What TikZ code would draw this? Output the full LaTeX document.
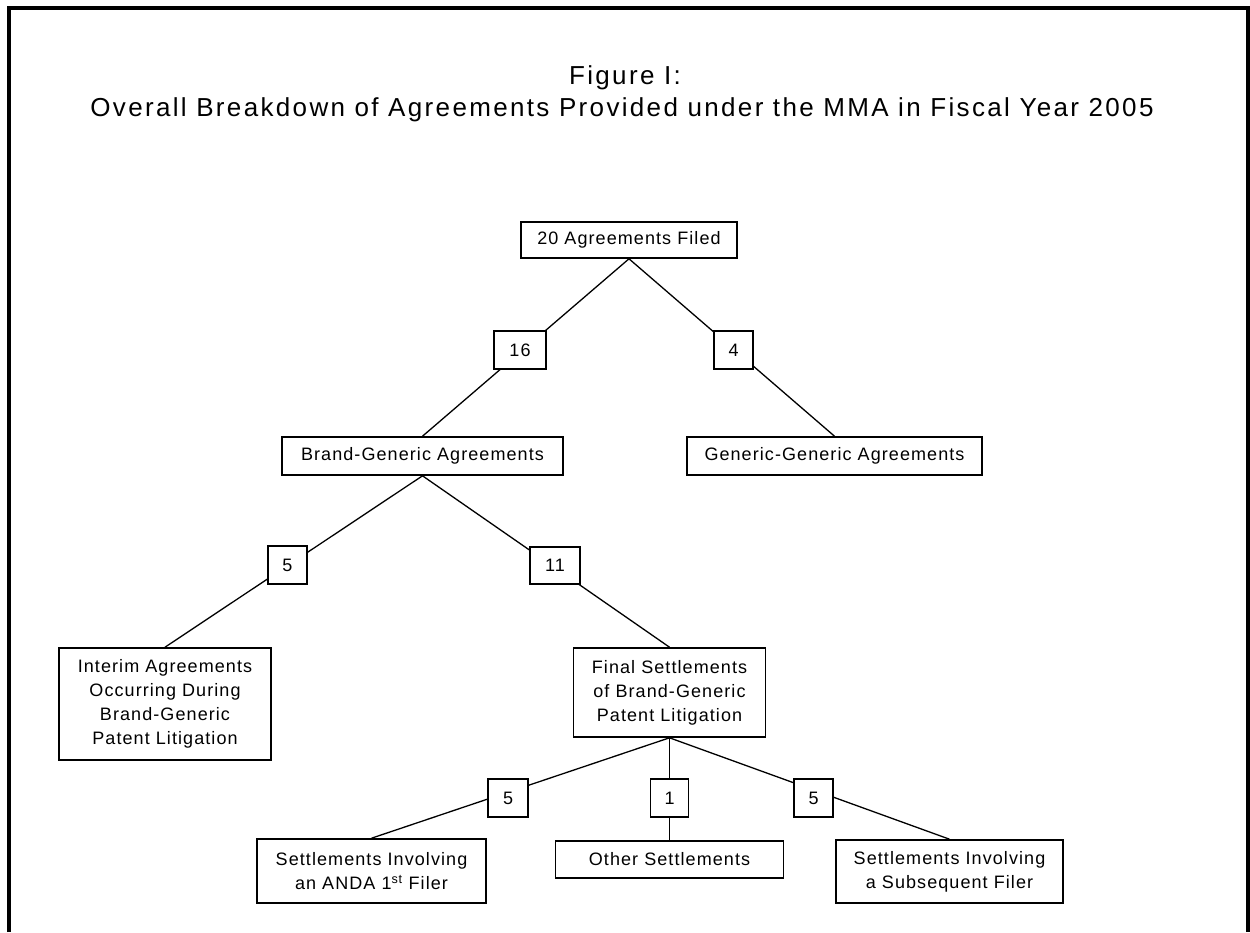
\documentclass[tikz,border=0pt]{standalone}
\usepackage{fontspec}
\setmainfont{Liberation Sans}[LetterSpace=6]
\newfontfamily\titlefont{Liberation Sans}[LetterSpace=9]
\newcommand{\boxfont}{\fontsize{18}{24}\selectfont}
\begin{document}
\begin{tikzpicture}[x=1pt,y=-1pt,
  box/.style={draw,line width=1.6pt,fill=white,inner sep=0pt,align=center,font=\boxfont},
  num/.style={box},
  conn/.style={line width=1.3pt},
  ttl/.style={anchor=base,font=\titlefont\fontsize{26}{32}\selectfont}]
\useasboundingbox (0,0) rectangle (1250,932);
\fill[white] (0,0) rectangle (1250,932);
% frame
\draw[line width=4pt] (9,932) -- (9,8) -- (1248,8) -- (1248,932);
% title
\node[ttl] (t1) at (625,84) {Figure I:};
\node[ttl] (t2) at (622,116) {Overall Breakdown of Agreements Provided under the MMA in Fiscal Year 2005};
% main boxes
\node[box,minimum width=216pt,minimum height=36pt] (top) at (629,240) {20 Agreements Filed};
\node[box,minimum width=281pt,minimum height=38pt] (brand) at (422.5,456) {Brand-Generic Agreements};
\node[box,minimum width=295pt,minimum height=38pt] (generic) at (834.5,456) {Generic-Generic Agreements};
\node[box,minimum width=212pt,minimum height=112pt] (interim) at (165,704) {Interim Agreements\\Occurring During\\Brand-Generic\\Patent Litigation};
\node[box,minimum width=192pt,minimum height=89pt] (final) at (669.5,692.5) {Final Settlements\\of Brand-Generic\\Patent Litigation};
\node[box,minimum width=229pt,minimum height=64pt] (anda) at (371.5,871) {Settlements Involving\\an ANDA 1\textsuperscript{st} Filer};
\node[box,minimum width=228pt,minimum height=37pt] (other) at (669.5,859.5) {Other Settlements};
\node[box,minimum width=227pt,minimum height=63pt] (subseq) at (949.5,871.5) {Settlements Involving\\a Subsequent Filer};
% connectors
\draw[conn] (top.south) -- (brand.north);
\draw[conn] (top.south) -- (generic.north);
\draw[conn] (brand.south) -- (interim.north);
\draw[conn] (brand.south) -- (final.north);
\draw[conn] (final.south) -- (anda.north);
\draw[conn] (final.south) -- (other.north);
\draw[conn] (final.south) -- (subseq.north);
% number boxes
\node[num,minimum width=52pt,minimum height=38pt] (n16) at (520,350) {16};
\node[num,minimum width=39pt,minimum height=38pt] (n4) at (733.5,350) {4};
\node[num,minimum width=39pt,minimum height=38pt] (n5a) at (287.5,565) {5};
\node[num,minimum width=50pt,minimum height=37pt] (n11) at (555,565.5) {11};
\node[num,minimum width=40pt,minimum height=38pt] (n5b) at (508,798) {5};
\node[num,minimum width=38pt,minimum height=38pt] (n1) at (669.5,798) {1};
\node[num,minimum width=39pt,minimum height=38pt] (n5c) at (813.5,798) {5};
\end{tikzpicture}
\end{document}
